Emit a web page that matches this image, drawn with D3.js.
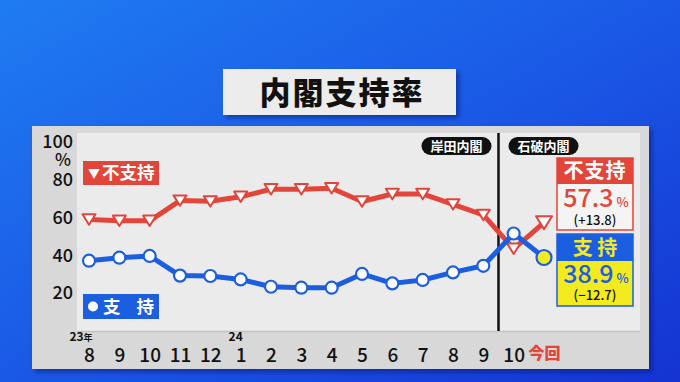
<!DOCTYPE html>
<html><head><meta charset="utf-8">
<script src="https://cdn.jsdelivr.net/npm/d3@7"></script>
<style>
html,body{margin:0;padding:0;background:#1a55e0;}
svg{display:block;}
text{font-family:"Noto Sans CJK JP","Noto Sans",sans-serif;}
</style></head>
<body>
<svg id="c" width="680" height="382"></svg>
<script>
// ---- data ----
const monthLabels = ["8","9","10","11","12","1","2","3","4","5","6","7","8","9","10","今回"];
const yearLabels = [{i:0, t:"23", u:"年", off:-8}, {i:5, t:"24", u:"", off:-5}];
const disapproval = [59, 58.3, 58.3, 69, 68.6, 71, 75, 75, 75.5, 68.5, 72.5, 72.5, 67, 61.4, 43.5, 57.3];
const approval   = [37.2, 38.8, 39.7, 29.3, 29.1, 27.3, 23.4, 22.9, 22.9, 30.2, 25.2, 27, 31, 34.5, 51.6, 38.9];
const yTicks = [20, 40, 60, 80, 100];
const cabinetLabels = ["岸田内閣", "石破内閣"];
const latest = {dis: "57.3", disDiff: "(+13.8)", app: "38.9", appDiff: "(−12.7)"};

const RED = "#e2463a", BLUE = "#1b5fe0", YEL = "#f3ea1f";
const svg = d3.select("#c");
const defs = svg.append("defs");
const bg = defs.append("linearGradient").attr("id","bg").attr("x1","0").attr("y1","0").attr("x2","1").attr("y2","1");
bg.append("stop").attr("offset","0").attr("stop-color","#1f7cf2");
bg.append("stop").attr("offset","0.55").attr("stop-color","#1a55e4");
bg.append("stop").attr("offset","1").attr("stop-color","#1433d2");
const sh = defs.append("filter").attr("id","sh").attr("x","-10%").attr("y","-10%").attr("width","130%").attr("height","130%");
sh.append("feDropShadow").attr("dx",3).attr("dy",3).attr("stdDeviation",2).attr("flood-color","#001060").attr("flood-opacity",0.5);

svg.append("rect").attr("width",680).attr("height",382).attr("fill","url(#bg)");

// title
svg.append("rect").attr("x",223).attr("y",69).attr("width",233).attr("height",46).attr("fill","#ececec").attr("filter","url(#sh)");
svg.append("text").attr("x",342).attr("y",104).attr("text-anchor","middle").attr("font-size",31).attr("font-weight",900)
  .attr("letter-spacing",2).attr("fill","#111").text("内閣支持率");

// panels
svg.append("rect").attr("x",32).attr("y",126).attr("width",617).attr("height",243).attr("fill","#d8d8d8").attr("filter","url(#sh)");
svg.append("rect").attr("x",77).attr("y",133).attr("width",563).attr("height",198).attr("fill","#ebebeb");
svg.append("line").attr("x1",77).attr("x2",640).attr("y1",331.5).attr("y2",331.5).attr("stroke","#c4c4c4").attr("stroke-width",1.5);

// scales
const x = d3.scalePoint().domain(d3.range(monthLabels.length)).range([89, 544]);
const y = d3.scaleLinear().domain([0, 100]).range([331, 142]);

// y axis
const yAxis = svg.append("g").attr("transform","translate(73,0)")
  .call(d3.axisLeft(y).tickValues(yTicks).tickSize(0).tickPadding(0));
yAxis.select(".domain").remove();
yAxis.selectAll("text").attr("font-size",18).attr("font-weight",500).attr("fill","#111")
  .attr("font-family","'Noto Sans CJK JP',sans-serif");
svg.append("text").attr("x",63).attr("y",166).attr("text-anchor","middle").attr("font-size",17).attr("font-weight",500).attr("fill","#111").text("%");

// x axis
const last = monthLabels.length - 1;
const xAxis = svg.append("g").attr("transform","translate(0,348)")
  .call(d3.axisBottom(x).tickSize(0).tickPadding(0).tickFormat(i => monthLabels[i]));
xAxis.select(".domain").remove();
xAxis.selectAll("text")
  .attr("font-family","'Noto Sans CJK JP',sans-serif")
  .attr("font-size",(i)=> i===last ? 16 : 19)
  .attr("font-weight",(i)=> i===last ? 900 : 500)
  .attr("fill",(i)=> i===last ? RED : "#111")
  .attr("dy","0.71em");
yearLabels.forEach(d => {
  const t = svg.append("text").attr("x", x(d.i) + d.off).attr("y",341).attr("text-anchor","middle").attr("font-size",12).attr("font-weight",700).attr("fill","#111");
  t.append("tspan").text(d.t);
  if (d.u) t.append("tspan").attr("font-size",9).text(d.u);
});

// cabinet divider
const divX = (x(13) + x(14)) / 2;
svg.append("line").attr("x1",divX).attr("x2",divX).attr("y1",133).attr("y2",331).attr("stroke","#111").attr("stroke-width",2.5);
[[divX - 42, cabinetLabels[0]], [divX + 45, cabinetLabels[1]]].forEach(([cx, t]) => {
  svg.append("rect").attr("x",cx-35).attr("y",137).attr("width",70).attr("height",18).attr("rx",9).attr("fill","#111");
  svg.append("text").attr("x",cx).attr("y",151).attr("text-anchor","middle").attr("font-size",13).attr("font-weight",700).attr("fill","#fff").text(t);
});

// lines
const line = d3.line().x((d,i)=>x(i)).y(d=>y(d));
svg.append("path").datum(disapproval).attr("d",line).attr("fill","none").attr("stroke",RED).attr("stroke-width",5).attr("stroke-linejoin","round");
const tri = (s) => `M${-s},${-s*0.8}L${s},${-s*0.8}L0,${s*0.8}Z`;
svg.append("g").selectAll("path").data(disapproval).join("path")
  .attr("transform",(d,i)=>`translate(${x(i)},${y(d)})`)
  .attr("d",(d,i)=> tri(i===last ? 8 : 6.5))
  .attr("fill","#fff").attr("stroke",RED).attr("stroke-width",2).attr("stroke-linejoin","round");

svg.append("path").datum(approval).attr("d",line).attr("fill","none").attr("stroke",BLUE).attr("stroke-width",5).attr("stroke-linejoin","round");
svg.append("g").selectAll("circle").data(approval).join("circle")
  .attr("cx",(d,i)=>x(i)).attr("cy",d=>y(d))
  .attr("r",(d,i)=> i===last ? 7.5 : 6)
  .attr("fill",(d,i)=> i===last ? YEL : "#fff")
  .attr("stroke",BLUE).attr("stroke-width",2.2);

// legend boxes
svg.append("rect").attr("x",83).attr("y",161).attr("width",76).attr("height",24).attr("fill",RED);
const l1 = svg.append("text").attr("x",88).attr("y",179).attr("font-weight",700).attr("fill","#fff");
l1.append("tspan").attr("font-size",12).attr("dy",-1).text("▼");
l1.append("tspan").attr("font-size",17.5).attr("dx",2).attr("dy",1).text("不支持");
svg.append("rect").attr("x",83).attr("y",294).attr("width",76).attr("height",25).attr("fill",BLUE);
svg.append("circle").attr("cx",93).attr("cy",306.5).attr("r",5).attr("fill","#fff");
svg.append("text").attr("x",103).attr("y",313).attr("font-size",17.5).attr("font-weight",700).attr("fill","#fff").text("支");
svg.append("text").attr("x",154).attr("y",313).attr("text-anchor","end").attr("font-size",17.5).attr("font-weight",700).attr("fill","#fff").text("持");

// right value boxes
// disapproval
svg.append("rect").attr("x",557).attr("y",158).attr("width",76).attr("height",72).attr("fill","#f4f4f4").attr("stroke",RED).attr("stroke-width",1.5);
svg.append("rect").attr("x",557).attr("y",158).attr("width",76).attr("height",26).attr("fill",RED);
svg.append("text").attr("x",595).attr("y",178).attr("text-anchor","middle").attr("font-size",20).attr("font-weight",700).attr("fill","#fff").attr("letter-spacing",1).text("不支持");
const t1 = svg.append("text").attr("x",596).attr("y",207).attr("text-anchor","middle").attr("fill",RED).attr("font-weight",500);
t1.append("tspan").attr("font-size",25).text(latest.dis);
t1.append("tspan").attr("font-size",13).attr("dx",3).text("%");
svg.append("text").attr("x",595).attr("y",225).attr("text-anchor","middle").attr("font-size",13).attr("font-weight",500).attr("fill","#111").text(latest.disDiff);
// approval
svg.append("rect").attr("x",557).attr("y",234).attr("width",76).attr("height",72).attr("fill",YEL).attr("stroke",BLUE).attr("stroke-width",1.5);
svg.append("rect").attr("x",557).attr("y",234).attr("width",76).attr("height",27).attr("fill",BLUE);
svg.append("text").attr("x",595).attr("y",255).attr("text-anchor","middle").attr("font-size",20).attr("font-weight",700).attr("fill",YEL).text("支 持");
const t2 = svg.append("text").attr("x",596).attr("y",283).attr("text-anchor","middle").attr("fill",BLUE).attr("font-weight",500);
t2.append("tspan").attr("font-size",25).text(latest.app);
t2.append("tspan").attr("font-size",13).attr("dx",3).text("%");
svg.append("text").attr("x",595).attr("y",300).attr("text-anchor","middle").attr("font-size",13).attr("font-weight",500).attr("fill","#111").text(latest.appDiff);
</script>
</body></html>
